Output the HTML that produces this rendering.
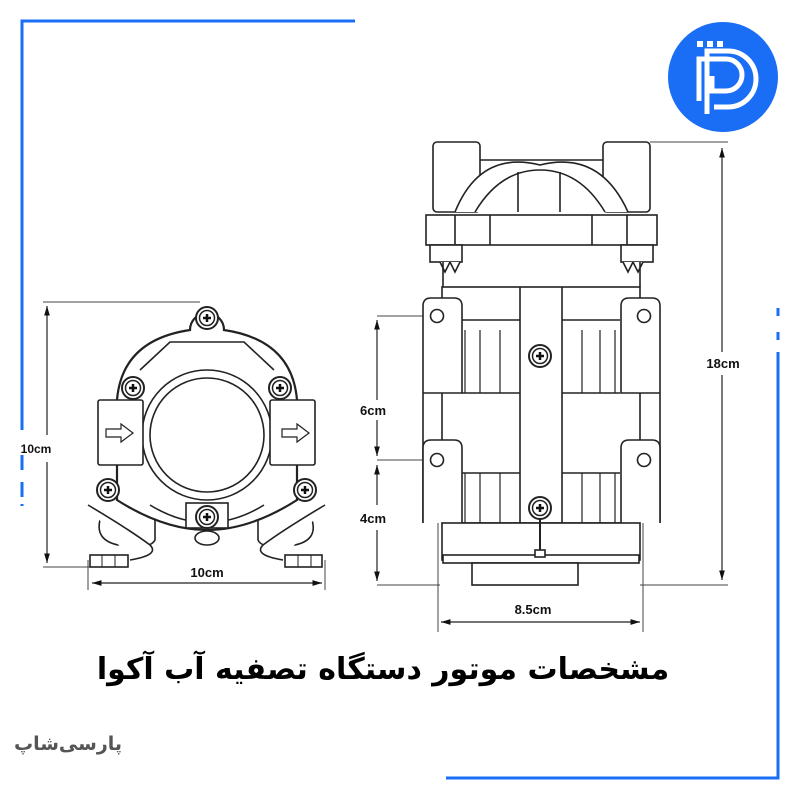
<!DOCTYPE html>
<html><head><meta charset="utf-8"><style>
html,body{margin:0;padding:0;background:#fff;}
.wrap{position:relative;width:800px;height:800px;overflow:hidden;background:#fff;}
svg{position:absolute;left:0;top:0;}
.t{position:absolute;font-family:"DejaVu Sans","Liberation Sans",sans-serif;direction:rtl;white-space:nowrap;}
</style></head><body><div class="wrap">
<svg width="800" height="800" viewBox="0 0 800 800" xmlns="http://www.w3.org/2000/svg">
<defs>
<g id="scr"><circle r="11" fill="#fff" stroke="#222" stroke-width="2"/><circle r="7.5" fill="none" stroke="#222" stroke-width="1.5"/><path d="M-4 0H4M0 -4V4" stroke="#111" stroke-width="2.5"/></g>
<marker id="ar" viewBox="0 0 10 10" refX="10" refY="5" markerWidth="8" markerHeight="8" orient="auto-start-reverse"><path d="M0 2L10 5L0 8z" fill="#111"/></marker>
</defs>
<g stroke="#1a6ef5" stroke-width="3" fill="none">
<path d="M355 21H22V430"/><path d="M22 455V470M22 482V497"/><path d="M22 504V506"/>
<path d="M446 778H778V352"/><path d="M778 332V340M778 308V316"/>
</g>
<circle cx="723" cy="77" r="55" fill="#1a6ef5"/>
<g fill="none" stroke="#fff" stroke-width="5">
<path d="M699 101V59H726A16 16 0 0 1 726 91H712V76"/>
<path d="M707 114V51H728A28 28 0 0 1 728 107H714"/>
</g>
<g fill="#fff"><rect x="697" y="41" width="6" height="6"/><rect x="707" y="41" width="6" height="6"/><rect x="717" y="41" width="6" height="6"/></g>

<g fill="#fff" stroke="#222" stroke-width="1.6">
<path d="M650 142H728M640 585H728M377 316H430M377 460H430M377 585H440M438 470V632M643 470V632" stroke-width="1" stroke="#444"/>
<line x1="722" y1="148" x2="722" y2="352" stroke-width="1.2" marker-start="url(#ar)"/>
<line x1="722" y1="375" x2="722" y2="580" stroke-width="1.2" marker-end="url(#ar)"/>
<line x1="377" y1="320" x2="377" y2="400" stroke-width="1.2" marker-start="url(#ar)"/>
<line x1="377" y1="420" x2="377" y2="456" stroke-width="1.2" marker-end="url(#ar)"/>
<line x1="377" y1="465" x2="377" y2="505" stroke-width="1.2" marker-start="url(#ar)"/>
<line x1="377" y1="530" x2="377" y2="581" stroke-width="1.2" marker-end="url(#ar)"/>
<line x1="441" y1="622" x2="640" y2="622" stroke-width="1.2" marker-start="url(#ar)" marker-end="url(#ar)"/>
<rect x="433" y="142" width="47" height="70" rx="4"/>
<rect x="603" y="142" width="47" height="70" rx="4"/>
<path d="M480 160H603"/>
<path d="M455 212Q480 150 540 165Q600 150 628 212"/>
<path d="M475 212Q500 170 540 170Q580 170 605 212"/>
<path d="M518 212V172M560 212V172" />
<rect x="426" y="215" width="231" height="30"/>
<path d="M455 215V245M490 215V245M592 215V245M627 215V245"/>
<rect x="430" y="245" width="32" height="17"/><rect x="621" y="245" width="32" height="17"/>
<path d="M440 262l5 10 5-10M450 262l5 10 5-10M623 262l5 10 5-10M633 262l5 10 5-10"/>
<path d="M443 262V287M640 262V287"/>
<rect x="442" y="287" width="198" height="236"/>
<path d="M520 287V523M562 287V523" />
<path d="M465 330V393M480 330V393M500 330V393M582 330V393M600 330V393M615 330V393M465 473V523M480 473V523M500 473V523M582 473V523M600 473V523M615 473V523" stroke-width="1.2"/>
<path d="M462 320H520M562 320H620M462 393H520M562 393H620M462 473H520M562 473H620"/>
<path d="M423 523V306Q423 298 431 298H454Q462 298 462 306V393H423"/>
<path d="M660 523V306Q660 298 652 298H629Q621 298 621 306V393H660"/>
<path d="M423 523V448Q423 440 431 440H454Q462 440 462 448V523"/>
<path d="M660 523V448Q660 440 652 440H629Q621 440 621 448V523"/>
<circle cx="437" cy="316" r="6.5"/><circle cx="644" cy="316" r="6.5"/>
<circle cx="437" cy="460" r="6.5"/><circle cx="644" cy="460" r="6.5"/>
<rect x="442" y="523" width="198" height="37"/>
<rect x="443" y="555" width="196" height="8"/>
<rect x="472" y="563" width="106" height="22"/>
<path d="M540 518V550" stroke-width="2"/><rect x="535" y="550" width="10" height="7"/>
</g>
<use href="#scr" x="540" y="356"/><use href="#scr" x="540" y="508"/>

<g fill="#fff" stroke="#222" stroke-width="1.6">
<path d="M43 302H200M43 567H95M88 560V590M325 560V590" stroke-width="1" stroke="#444"/>
<line x1="47" y1="306" x2="47" y2="435" stroke-width="1.2" marker-start="url(#ar)"/>
<line x1="47" y1="462" x2="47" y2="563" stroke-width="1.2" marker-end="url(#ar)"/>
<line x1="92" y1="583" x2="322" y2="583" stroke-width="1.2" marker-start="url(#ar)" marker-end="url(#ar)"/>
<path d="M100 520Q95 540 118 545Q150 550 155 540V515" />
<path d="M312 520Q318 540 295 545Q262 550 258 540V515" />
<path d="M88 505Q130 530 150 545Q160 555 130 560"/>
<path d="M325 505Q283 530 263 545Q253 555 283 560"/>
<rect x="90" y="555" width="38" height="12"/><rect x="285" y="555" width="37" height="12"/>
<path d="M102 555V567M115 555V567M298 555V567M311 555V567" stroke-width="1"/>
<path d="M117 400Q122 340 190 330A12 12 0 0 1 224 330Q292 340 297 400V500Q250 530 207 530Q164 530 117 500Z" stroke-width="2.2"/>
<path d="M140 370L170 342H244L274 370" />
<path d="M150 505Q207 540 264 505"/>
<rect x="186" y="503" width="42" height="25"/>
<circle cx="207" cy="435" r="65"/>
<circle cx="207" cy="435" r="57"/>
<ellipse cx="207" cy="538" rx="12" ry="7"/>
<rect x="98" y="400" width="45" height="65" rx="2"/>
<rect x="270" y="400" width="45" height="65" rx="2"/>
<path d="M106 429H121V424L133 433L121 442V437H106Z" stroke-width="1.2"/>
<path d="M282 429H297V424L309 433L297 442V437H282Z" stroke-width="1.2"/>
</g>
<use href="#scr" x="207" y="318"/><use href="#scr" x="133" y="388"/><use href="#scr" x="280" y="388"/>
<use href="#scr" x="108" y="490"/><use href="#scr" x="305" y="490"/><use href="#scr" x="207" y="517"/>

<g font-family="Liberation Sans, sans-serif" font-size="13" fill="#111" text-anchor="middle" font-weight="bold">
<text x="36" y="453" font-size="12">10cm</text>
<text x="207" y="577">10cm</text>
<text x="723" y="368">18cm</text>
<text x="373" y="415">6cm</text>
<text x="373" y="523">4cm</text>
<text x="533" y="614">8.5cm</text>
</g>
</svg>
<div class="t" style="left:-17px;width:800px;text-align:center;top:652px;font-size:30px;font-weight:bold;color:#000;">مشخصات  موتور دستگاه تصفیه آب آکوا</div>
<div class="t" style="left:14px;top:733px;font-size:19px;font-weight:bold;color:#555;">پارسی‌شاپ</div>
</div></body></html>
